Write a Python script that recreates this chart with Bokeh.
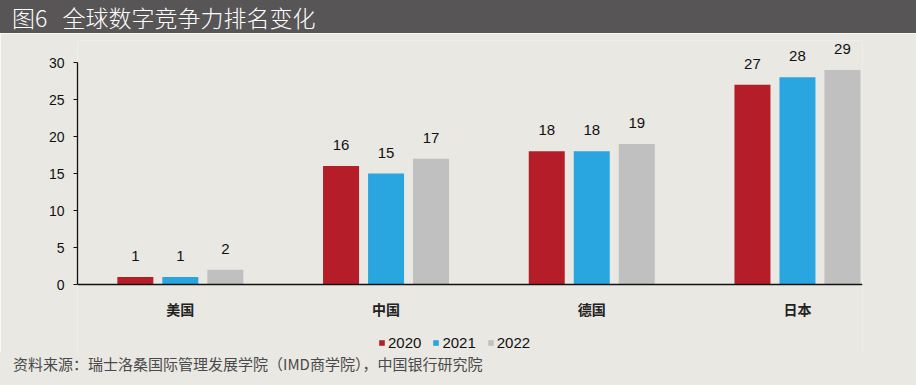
from bokeh.plotting import figure
from bokeh.models import (ColumnDataSource, Range1d, FixedTicker, Legend, LegendItem, Div)
from bokeh.layouts import column
from bokeh.core.properties import value
from bokeh.embed import file_html
from bokeh.resources import INLINE

# ---- data ----
title_text = "图6&nbsp;&nbsp;&nbsp;全球数字竞争力排名变化"
source_text = "资料来源：瑞士洛桑国际管理发展学院（IMD商学院），中国银行研究院"
countries = ["美国", "中国", "德国", "日本"]
years = ["2020", "2021", "2022"]
rank_2020 = [1, 16, 18, 27]
rank_2021 = [1, 15, 18, 28]
rank_2022 = [2, 17, 19, 29]
y_ticks = [0, 5, 10, 15, 20, 25, 30]

# ---- style ----
BG = "#e9e8e3"
BAR_BG = "#575556"
COLORS = ["#b51e28", "#29a6df", "#c0c0c0"]
CJK = "Noto Sans CJK SC"
LAT = "Liberation Sans"

W = 916
spacing_px = 205.7
frame_w = 785
px_per_unit = 7.4
offset = 45.0 / spacing_px
bar_w = 36.0 / spacing_px

title_div = Div(
    text=title_text, width=W, height=33, margin=0,
    styles={"background-color": BAR_BG, "color": "white", "font-family": CJK,
            "font-size": "23px", "font-weight": "300", "line-height": "31px",
            "padding-left": "12px", "padding-top": "2px",
            "box-sizing": "border-box", "white-space": "nowrap"},
)

p = figure(width=W, height=319, output_backend="svg", toolbar_location=None,
           x_range=Range1d(-0.5, -0.5 + frame_w / spacing_px),
           y_range=Range1d(-68 / px_per_unit, 244 / px_per_unit), margin=0,
           min_border_left=77, min_border_right=54, min_border_top=7, min_border_bottom=0)
p.background_fill_color = BG
p.border_fill_color = BG
p.outline_line_color = None
p.grid.visible = False

xs = list(range(len(countries)))
series = [rank_2020, rank_2021, rank_2022]
items = []
for i, (yr, vals) in enumerate(zip(years, series)):
    src = ColumnDataSource(dict(x=[x + (i - 1) * offset for x in xs], top=vals,
                                lab=[str(v) for v in vals]))
    r = p.vbar(x="x", top="top", width=bar_w, bottom=0, source=src,
               fill_color=COLORS[i], line_color=None)
    p.text(x="x", y="top", text="lab", source=src, text_align="center",
           text_baseline="alphabetic", y_offset=-21, text_font=value(LAT),
           text_font_size="15px", text_color="#111111")
    items.append(LegendItem(label=yr, renderers=[r]))

# y axis
ya = p.yaxis[0]
ya.ticker = FixedTicker(ticks=y_ticks)
ya.bounds = (0, 30)
ya.minor_tick_line_color = None
ya.major_tick_in = 0
ya.major_tick_out = 4
ya.major_tick_line_color = "#111111"
ya.axis_line_color = "#111111"
ya.axis_line_width = 1.3
ya.major_label_standoff = 9
ya.major_label_text_font = LAT
ya.major_label_text_font_size = "14px"
ya.major_label_text_color = "#111111"

# x axis, pinned at y = 0 inside the frame
xa = p.xaxis[0]
xa.fixed_location = 0
xa.ticker = FixedTicker(ticks=xs)
xa.major_label_overrides = {i: c for i, c in enumerate(countries)}
xa.minor_tick_line_color = None
xa.major_tick_in = 0
xa.major_tick_out = 0
xa.axis_line_color = "#111111"
xa.axis_line_width = 1.3
xa.major_label_standoff = 14
xa.major_label_text_font = CJK
xa.major_label_text_font_style = "bold"
xa.major_label_text_font_size = "14px"
xa.major_label_text_color = "#222222"

legend = Legend(items=items, orientation="horizontal", location=(301, 1),
                glyph_width=7, glyph_height=7, label_standoff=3, spacing=11,
                padding=0, margin=0, border_line_color=None,
                background_fill_alpha=0, label_text_font=LAT,
                label_text_font_size="15px", label_text_color="#111111")
p.add_layout(legend, "center")

source_div = Div(
    text=source_text, width=W, height=33, margin=0,
    styles={"background-color": BG, "color": "#4a4a4a", "font-family": CJK,
            "font-size": "15px", "line-height": "24px", "padding-left": "13px",
            "box-sizing": "border-box", "white-space": "nowrap"},
)

layout = column(title_div, p, source_div, spacing=0)
open("out.html", "w").write(file_html(layout, INLINE))
